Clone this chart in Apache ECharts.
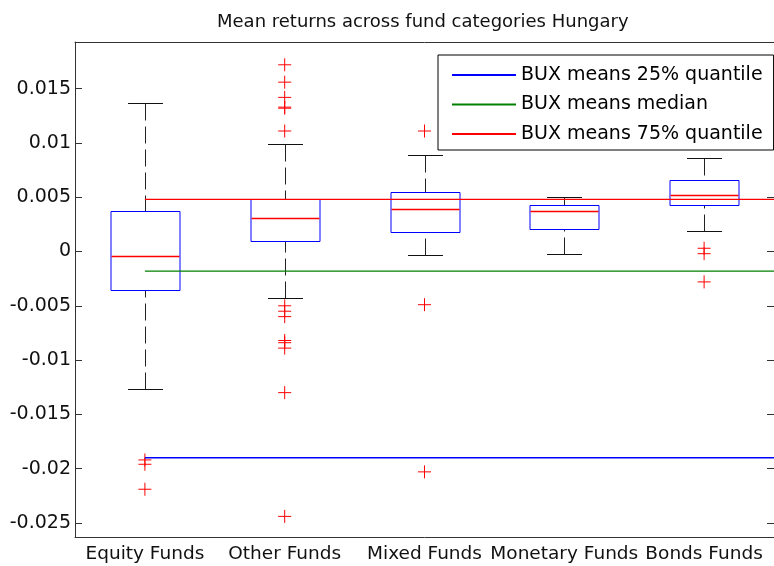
<!DOCTYPE html>
<html>
<head>
<meta charset="utf-8">
<script src="https://cdn.jsdelivr.net/npm/echarts@6/dist/echarts.min.js"></script>
<style>
  html, body { margin: 0; padding: 0; background: #fff; }
  #chart { width: 774px; height: 566px; }
</style>
</head>
<body>
<div id="chart"></div>
<script>
// fund categories and box statistics
const categories = ['Equity Funds', 'Other Funds', 'Mixed Funds', 'Monetary Funds', 'Bonds Funds'];
const lowerWhisker = [-0.0127, -0.0043, -0.0003, -0.0002, 0.0019];
const quart1 = [-0.0035, 0.0010, 0.0018, 0.0021, 0.0043];
const medians = [-0.0004, 0.0031, 0.0039, 0.0037, 0.0052];
const quart3 = [0.0037, 0.0048, 0.0055, 0.0043, 0.0066];
const upperWhisker = [0.0137, 0.0099, 0.0089, 0.0050, 0.0086];

// outliers per category
const outEquity = [-0.0192, -0.0196, -0.0219];
const outOther = [0.0172, 0.0156, 0.0142, 0.0133, 0.0132, 0.0111,
                  -0.0050, -0.0055, -0.0060, -0.0082, -0.0084, -0.0089, -0.0130, -0.0244];
const outMixed = [0.0111, -0.0049, -0.0203];
const outMonetary = [];
const outBonds = [0.0003, -0.0002, -0.0028];

// BUX reference levels
const bux25 = -0.0190;
const buxMedian = -0.0018;
const bux75 = 0.0048;
const refFrom = 1;     // starts at first category
const refTo = 5.5;

const yMin = -0.0263, yMax = 0.0193;

const boxData = categories.map((c, i) =>
  [i, lowerWhisker[i], quart1[i], medians[i], quart3[i], upperWhisker[i]]);

const outlierData = [];
[outEquity, outOther, outMixed, outMonetary, outBonds].forEach((arr, i) => {
  arr.forEach(v => outlierData.push([i, v]));
});

const font = 'DejaVu Sans';
const axisColor = '#333';

function renderBox(params, api) {
  const i = api.value(0);
  const band = api.size([1, 0])[0];
  const half = band * 0.25, capHalf = band * 0.125;
  const x = Math.round(api.coord([i, 0])[0]) + 0.5;
  const y = k => Math.round(api.coord([i, api.value(k)])[1]) + 0.5;
  const yLo = y(1), yQ1 = y(2), yMed = y(3), yQ3 = y(4), yHi = y(5);
  const bl = Math.round(x - half), br = Math.round(x + half);
  const dash = [17, 6];
  return {
    type: 'group',
    children: [
      // whiskers drawn from the caps towards the box
      { type: 'line', shape: { x1: x, y1: yHi, x2: x, y2: yQ3 },
        style: { stroke: '#222', lineWidth: 1, lineDash: dash } },
      { type: 'line', shape: { x1: x, y1: yLo, x2: x, y2: yQ1 },
        style: { stroke: '#222', lineWidth: 1, lineDash: dash } },
      { type: 'line', shape: { x1: x - capHalf, y1: yHi, x2: x + capHalf, y2: yHi },
        style: { stroke: '#111', lineWidth: 1 } },
      { type: 'line', shape: { x1: x - capHalf, y1: yLo, x2: x + capHalf, y2: yLo },
        style: { stroke: '#111', lineWidth: 1 } },
      { type: 'rect', shape: { x: bl, y: yQ3, width: br - bl, height: yQ1 - yQ3 },
        style: { fill: 'none', stroke: 'rgb(0,0,255)', lineWidth: 1 } },
      { type: 'rect', shape: { x: bl + 0.5, y: yMed - 0.75, width: br - bl - 1, height: 1.5 },
        style: { fill: 'rgb(255,0,0)', stroke: 'none' } }
    ]
  };
}

const chart = echarts.init(document.getElementById('chart'), null, { renderer: 'canvas' });

const option = {
  animation: false,
  backgroundColor: '#fff',
  textStyle: { fontFamily: font },
  title: {
    text: 'Mean returns across fund categories Hungary',
    left: 212, top: 8,
    textStyle: { fontFamily: font, fontSize: 18, fontWeight: 'normal', color: '#111' }
  },
  legend: {
    orient: 'vertical',
    left: 438, top: 55,
    padding: [10.5, 11, 6.5, 14],
    itemGap: 10.5,
    itemWidth: 64, itemHeight: 2,
    icon: 'rect',
    borderColor: '#000', borderWidth: 1,
    backgroundColor: '#fff',
    textStyle: { fontFamily: font, fontSize: 19, color: '#000' },
    data: [
      { name: 'BUX means 25% quantile', itemStyle: { color: 'rgb(0,0,255)' } },
      { name: 'BUX means median', itemStyle: { color: 'rgb(0,128,0)' } },
      { name: 'BUX means 75% quantile', itemStyle: { color: 'rgb(255,0,0)' } }
    ]
  },
  grid: { left: 75, top: 42, width: 708, height: 495, containLabel: false },
  xAxis: [
    {
      type: 'category', data: categories, position: 'bottom',
      axisLine: { onZero: false, lineStyle: { color: axisColor } },
      axisTick: { inside: true, length: 7, alignWithLabel: true, lineStyle: { color: axisColor } },
      axisLabel: { fontFamily: font, fontSize: 18.5, color: '#111', margin: 8, interval: 0 },
      splitLine: { show: false }
    },
    {
      type: 'category', data: categories, position: 'top',
      axisLine: { onZero: false, lineStyle: { color: axisColor } },
      axisTick: { inside: true, length: 7, alignWithLabel: true, lineStyle: { color: axisColor } },
      axisLabel: { show: false },
      splitLine: { show: false }
    },
    { type: 'value', min: 0.5, max: 5.5, show: false }
  ],
  yAxis: [
    {
      type: 'value', min: yMin, max: yMax, splitNumber: 9, position: 'left',
      axisLine: { show: true, onZero: false, lineStyle: { color: axisColor } },
      axisTick: { show: true, inside: true, length: 7, lineStyle: { color: axisColor } },
      axisLabel: {
        fontFamily: font, fontSize: 19, color: '#111', margin: 4,
        showMinLabel: false, showMaxLabel: false,
        formatter: v => {
          const r = Math.round(v / 0.005);
          if (Math.abs(v - r * 0.005) > 1e-7) return '';
          return String(parseFloat((r * 0.005).toFixed(3)));
        }
      },
      splitLine: { show: false }
    },
    {
      type: 'value', min: yMin, max: yMax, splitNumber: 9, position: 'right',
      axisLine: { show: true, onZero: false, lineStyle: { color: axisColor } },
      axisTick: { show: true, inside: true, length: 7, lineStyle: { color: axisColor } },
      axisLabel: { show: false },
      splitLine: { show: false }
    }
  ],
  series: [
    {
      name: 'boxes', type: 'custom', xAxisIndex: 0, yAxisIndex: 0,
      renderItem: renderBox, data: boxData, z: 2, silent: true
    },
    {
      name: 'outliers', type: 'scatter', xAxisIndex: 0, yAxisIndex: 0,
      data: outlierData, symbol: 'path://M0,6L12,6M6,0L6,12', symbolSize: 13,
      itemStyle: { color: 'none', borderColor: 'rgb(255,0,0)', borderWidth: 1, opacity: 1 },
      z: 3, silent: true
    },
    {
      name: 'BUX means 25% quantile', type: 'line', xAxisIndex: 2, yAxisIndex: 0,
      data: [[refFrom, bux25], [refTo, bux25]], symbol: 'none',
      lineStyle: { color: 'rgb(0,0,255)', width: 1.3 }, itemStyle: { color: 'rgb(0,0,255)' }, z: 4
    },
    {
      name: 'BUX means median', type: 'line', xAxisIndex: 2, yAxisIndex: 0,
      data: [[refFrom, buxMedian], [refTo, buxMedian]], symbol: 'none',
      lineStyle: { color: 'rgb(0,128,0)', width: 1.3 }, itemStyle: { color: 'rgb(0,128,0)' }, z: 4
    },
    {
      name: 'BUX means 75% quantile', type: 'line', xAxisIndex: 2, yAxisIndex: 0,
      data: [[refFrom, bux75], [refTo, bux75]], symbol: 'none',
      lineStyle: { color: 'rgb(255,0,0)', width: 1.3 }, itemStyle: { color: 'rgb(255,0,0)' }, z: 4
    }
  ]
};

chart.setOption(option);
</script>
</body>
</html>
